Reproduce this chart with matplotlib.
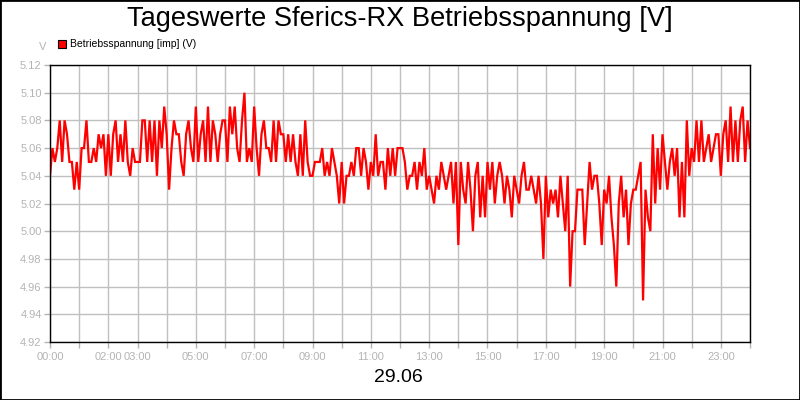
import numpy as np
import matplotlib.pyplot as plt
from matplotlib.patches import Rectangle

plt.rcParams['font.family'] = ['Liberation Sans', 'DejaVu Sans']

# Betriebsspannung in 1/100 V, 5-Minuten-Werte, eine Zeile pro Stunde
stunden_werte = [
    [504, 506, 505, 506, 508, 505, 508, 507, 505, 505, 503, 505],  # 00
    [503, 506, 506, 508, 505, 505, 506, 505, 507, 506, 507, 504],  # 01
    [507, 504, 507, 508, 505, 507, 505, 508, 505, 504, 506, 505],  # 02
    [505, 505, 508, 508, 505, 508, 505, 508, 504, 508, 506, 509],  # 03
    [507, 503, 506, 508, 507, 507, 505, 504, 507, 508, 506, 505],  # 04
    [509, 505, 507, 508, 505, 509, 505, 508, 507, 505, 507, 508],  # 05
    [508, 505, 509, 507, 509, 506, 505, 508, 510, 505, 506, 505],  # 06
    [509, 506, 504, 507, 508, 506, 506, 505, 508, 505, 508, 507],  # 07
    [507, 505, 507, 505, 507, 505, 504, 507, 504, 508, 505, 504],  # 08
    [504, 505, 505, 505, 506, 504, 505, 504, 506, 505, 504, 502],  # 09
    [505, 502, 504, 504, 505, 504, 506, 506, 504, 506, 505, 503],  # 10
    [505, 504, 507, 504, 505, 505, 503, 506, 504, 506, 504, 506],  # 11
    [506, 506, 505, 503, 504, 504, 505, 503, 505, 504, 506, 503],  # 12
    [504, 503, 502, 504, 503, 505, 504, 503, 504, 505, 502, 505],  # 13
    [499, 505, 503, 502, 505, 503, 500, 504, 505, 501, 504, 501],  # 14
    [505, 503, 505, 502, 504, 505, 504, 502, 504, 503, 501, 504],  # 15
    [503, 502, 504, 505, 503, 503, 504, 503, 502, 504, 502, 498],  # 16
    [504, 501, 503, 502, 503, 501, 504, 502, 500, 504, 496, 500],  # 17
    [500, 503, 503, 503, 499, 502, 505, 503, 504, 504, 502, 499],  # 18
    [503, 502, 504, 501, 499, 496, 502, 504, 501, 503, 499, 502],  # 19
    [503, 503, 504, 505, 495, 503, 501, 500, 507, 502, 506, 503],  # 20
    [507, 505, 503, 505, 506, 504, 506, 501, 505, 501, 508, 504],  # 21
    [506, 505, 508, 505, 508, 505, 506, 507, 505, 506, 507, 507],  # 22
    [504, 507, 508, 505, 509, 505, 508, 505, 508, 509, 505, 508],  # 23
]
letzter_wert = 506  # 24:00

werte = np.array([w for stunde in stunden_werte for w in stunde] + [letzter_wert]) / 100.0
zeit = np.arange(len(werte)) * 5 / 60.0  # Stunden

x_labels = {0: "00:00", 2: "02:00", 3: "03:00", 5: "05:00", 7: "07:00", 9: "09:00",
            11: "11:00", 13: "13:00", 15: "15:00", 17: "17:00", 19: "19:00",
            21: "21:00", 23: "23:00"}
y_ticks = [4.92, 4.94, 4.96, 4.98, 5.00, 5.02, 5.04, 5.06, 5.08, 5.10, 5.12]

grau = '#b4b4b4'

fig = plt.figure(figsize=(8, 4), dpi=100)
ax = fig.add_axes([50 / 800, 58 / 400, 700 / 800, 277 / 400])

ax.plot(zeit, werte, color='#ff0000', linewidth=1.6, solid_joinstyle='miter')

ax.set_xlim(0, 24)
ax.set_ylim(4.92, 5.12)
ax.set_xticks(range(25))
ax.set_xticklabels([x_labels.get(h, "") for h in range(25)])
ax.set_yticks(y_ticks)
ax.set_yticklabels([f"{v:.2f}" for v in y_ticks])
ax.grid(True, color='#c0c0c0', linewidth=1)
ax.set_axisbelow(True)
ax.tick_params(axis='both', colors=grau, labelsize=8, length=4, width=1, pad=2)
ax.tick_params(axis='x', pad=3)
for s in ax.spines.values():
    s.set_color('black')
    s.set_linewidth(1)

fig.text(0.5, 1 - 19 / 400, "Tageswerte Sferics-RX Betriebsspannung [V]",
         ha='center', va='center', fontsize=19.6, color='black')
fig.text(398 / 800, 1 - 378 / 400, "29.06", ha='center', va='center',
         fontsize=14, color='black')
fig.text(43 / 800, 1 - 47 / 400, "V", ha='center', va='center', fontsize=8, color=grau)

# Legende
fig.patches.append(Rectangle((58 / 800, 1 - 48 / 400), 8 / 800, 8 / 400,
                             transform=fig.transFigure, facecolor='#ff0000',
                             edgecolor='black', linewidth=0.8))
fig.text(70 / 800, 1 - 44 / 400, "Betriebsspannung [imp] (V)", ha='left', va='center',
         fontsize=7.5, color='black')

# Rahmen
fig.patches.append(Rectangle((0, 0), 1, 1, transform=fig.transFigure, fill=False,
                             edgecolor='black', linewidth=2))

fig.savefig("out.png", dpi=100)
